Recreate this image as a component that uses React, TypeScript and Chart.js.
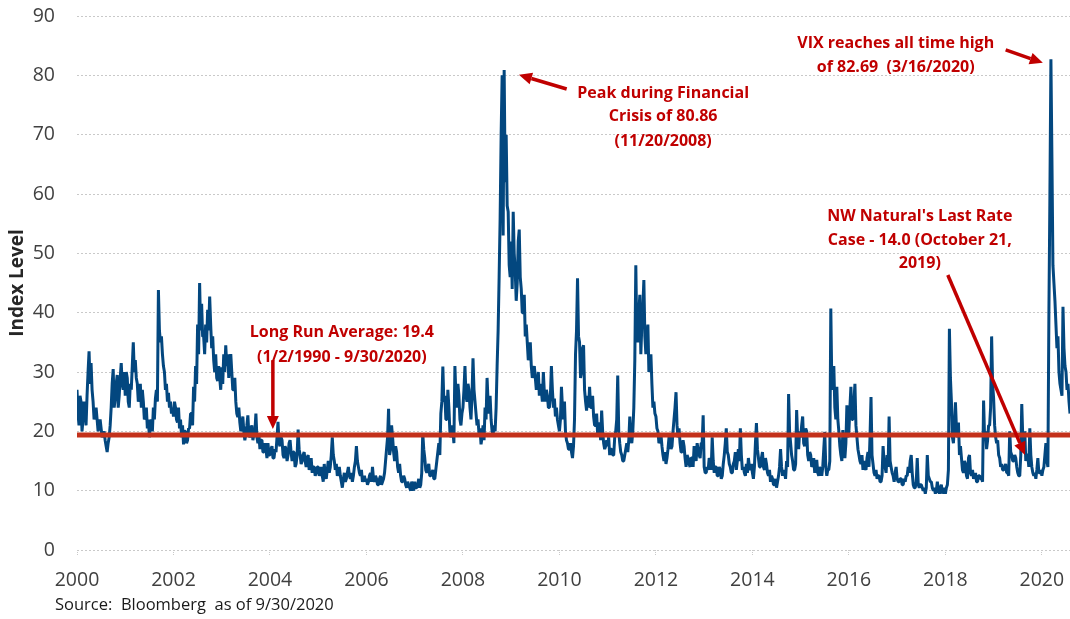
import React, { useEffect, useRef } from 'react';
import { Chart, registerables } from 'chart.js';

Chart.register(...registerables);

// ---------- data ----------
const X_MIN = 2000;
const X_MAX = 2020.583;
const LONG_RUN_AVERAGE = 19.4;
const xTickYears = [2000, 2002, 2004, 2006, 2008, 2010, 2012, 2014, 2016, 2018, 2020];
const Y_MIN = 0;
const Y_MAX = 90;
const Y_STEP = 10;
const SAMPLES_PER_YEAR = 48; // roughly weekly readings, 4 per month

const vix2000 = [27,23, 21,26, 25,20, 22,25, 24,21, 26,30, 33.5,28, 31.5,27, 25,22, 23,24, 22,20, 21,22, 20.5,19, 19.5,20, 18.5,17.5, 16.5,18, 19,21, 24,28, 30.5,24, 25.5,28, 29.5,24, 26,29, 31.5,28, 27,30];
const vix2001 = [26,30, 29,25, 24,28, 27,31, 35,30, 32,29, 28,25, 26,28, 24,27, 25,22, 22.5,24, 20.5,22, 19,21, 22,20, 24,22, 25.5,27, 25,43.8, 37,35, 36,33, 31,30, 27,28, 25,26.5, 24,25, 23,24];
const vix2002 = [22.5,25, 24,22, 21.5,24, 20.5,22, 19,21, 17.8,20, 20,18, 18.5,20.5, 20.5,23, 23,21, 27.5,25, 31,28, 38,33, 45,37, 41.5,36, 36,33, 38,35, 40.5,37, 42.7,38, 34,36, 32,30, 33,29, 28.5,31, 29,27];
const vix2003 = [30.8,28, 33,30, 34.5,31, 33,29, 31,33, 30,27, 27,29, 25,23, 22.4,24, 21.5,20, 21.3,22.5, 20,18.5, 19.6,21, 22.7,19.5, 19,20.5, 21,18.5, 19.5,20, 23,19, 18,19.5, 17,18.5, 18.5,16.5, 16.5,18, 17,15.5, 18,16];
const vix2004 = [16,17, 17.5,15.5, 15.5,17, 16.5,19, 21.6,18, 17.5,19, 18.5,16, 15.5,17.5, 17,15, 16,18, 18.5,16.5, 15,16.5, 16.5,14, 14.5,16, 20.3,17, 16,14.5, 15,16, 16.5,15, 14,15.5, 16,13.5, 14.5,15.5, 13,14, 14,12.5, 13,14];
const vix2005 = [14,12.5, 13,14, 12.5,11.5, 14.5,12.5, 12,13.5, 15,13, 14,16, 19,16, 15,13.5, 14.5,12.5, 13,14, 12.5,11.5, 10.5,12, 13,11.5, 12,13, 14,12.5, 12,13, 11.5,12.5, 14,15, 17.5,15, 14,13, 12.5,13.5, 11.5,12, 12.5,11.5];
const vix2006 = [12,11, 11.5,12.5, 13,11.5, 14,12, 11.5,12.5, 12,11, 11,12, 12.5,11, 11.5,12, 13,15, 17,19, 23.8,16, 17,21, 19,16.5, 15,17.5, 16.5,14, 13,14.5, 12.5,11.5, 11.5,12.5, 12,11, 10.5,11.5, 11,10.5, 10,11.5, 11,10];
const vix2007 = [11.5,10.5, 10.5,11, 12,10.5, 11,13, 19.7,17, 15.5,13.5, 13,14, 14.5,12.5, 12.5,13, 13.5,12, 12,13.5, 15,16.5, 18,16, 23,25, 30.9,25, 26,22, 22,27, 24,20, 19,21, 20,18, 31,26, 24,28, 26,22, 21,23];
const vix2008 = [24,27, 31,26, 25,28, 27,24, 22,26, 32.3,27, 25,23, 21,22, 19.5,20.5, 17.8,19, 21,18.5, 24,22, 29,25, 23,26, 22,20, 19.5,21, 20,24, 31,37, 46,56, 70,80, 53,80.9, 62,70, 58,57, 48,46];
const vix2009 = [52,44, 57,50, 47,42, 45,52, 54,46, 44,40, 40,43, 36,38, 35,32, 33,35, 31,29, 30,31, 29,27, 28,30, 26,28, 27,25, 30,26.5, 25,27, 26,24, 24,26, 31,27, 24,25.5, 22.5,24, 22,21];
const vix2010 = [20,22, 27.5,24, 22,25, 20,18.5, 18,17, 17,18, 16.5,15.5, 17.5,22, 33,37, 45.8,36, 35,29, 30,34, 34.5,27, 25,23.5, 26,24, 27.5,24, 24,26, 22.5,21, 21,23, 19.5,21.5, 20.5,18.5, 23.5,20, 18,17, 17.5,18.5];
const vix2011 = [17.5,19, 16,17, 17,16, 16,19, 20,22, 29.4,20, 18,16.5, 16,15, 15,16, 17,18, 16.5,18.5, 22.5,19, 18,20, 24,32, 48,36, 35,40, 43,33, 38,41, 45.5,36, 33,36, 38,30, 31,33, 28,24, 25,23];
const vix2012 = [22.5,20.5, 20,18, 18.5,19.5, 17.5,16, 15,16.5, 14.5,15.5, 17,19, 19.5,17, 17.5,20, 22,24, 26.6,21, 19,20.5, 18,16.5, 16.5,18.5, 17.5,15.5, 14,16, 15.5,14.5, 14,15.5, 15.5,14, 17.5,16, 15,18, 17,16, 15.5,18, 18,22.7];
const vix2013 = [14,13, 13,14, 13.5,15.5, 15,13.5, 19,15, 13,14, 14,12.5, 12.5,14, 13.5,12, 12.5,14.5, 16,18, 20.5,16.5, 16,14.5, 14,13, 13,14.5, 15,16.5, 13.5,15, 17,15, 20.5,16, 13.5,14, 13,12.5, 14.5,13, 15.5,14, 13.5,14.5];
const vix2014 = [13,12, 14,18, 21.4,17, 15.5,14, 14,15.5, 16.5,14, 13.5,15.5, 14.5,13, 12.5,13.5, 11.5,12.5, 12,11, 11,12, 10.5,11.5, 12.5,14, 17,14, 12.5,13.5, 13,12, 15,14, 26.3,20, 18,16, 15,13.5, 13.5,14.5, 23.6,19, 17,20];
const vix2015 = [19,21, 22.5,18, 17.5,20.5, 20,16, 15,16.5, 16,14, 14.5,15.5, 13,14, 15.2,13, 12.5,14, 13.5,12.5, 14,17, 19.9,14, 12.5,13.5, 13.5,15, 40.7,28, 27,31, 24,22, 27.5,22, 20,17.5, 16,15, 20.2,16.5, 15.5,18, 24.4,19];
const vix2016 = [20,24, 27.5,22, 22,25, 28,21, 19,17, 16,15, 14.5,16, 13.5,15, 14,13.5, 15.5,16.5, 14,19, 25.8,16, 14.5,13, 12.5,13.5, 12,12.5, 12.5,11.5, 11.5,12.5, 17.5,15, 14,13, 16,14, 22.5,15, 14,13, 12.5,11.5, 13,14];
const vix2017 = [12,11.5, 11.5,12, 12,11, 11,12, 11.5,12.5, 12.5,14, 13,15, 16,13, 11,10.5, 10.5,11.5, 15.5,11, 10.5,11, 11,10.5, 10,10.5, 9.5,10.5, 16,12.5, 12,11.5, 11.5,10.5, 10,10.5, 9.5,10, 11.5,10, 9.5,10.5, 11,9.5, 10,10.5];
const vix2018 = [9.5,10.5, 11,13.5, 37.3,29, 25,19, 18,21, 24.9,20.5, 19,21.5, 16,17.5, 15.5,13.5, 13,15, 14.5,12.5, 12,15.5, 16,13, 12.5,13.5, 12,12.5, 13,11.5, 11.5,12.5, 12.5,12, 12,11.5, 25.2,19, 20,17, 18.5,21, 21,24, 36,28];
const vix2019 = [25.5,21, 19,18, 18.5,16, 15.5,14, 14.5,13.5, 13.5,14, 14.5,13, 13,12.5, 20,16.5, 16,15, 15,16, 15.5,14, 13,12.5, 12.5,16, 24.6,19, 18,20, 15,16, 16,14, 20.5,16, 14,13, 12.5,13, 12,13.5, 15.5,13, 13,13.5];
const vix2020 = [12.5,13.5, 14,16, 18,15, 14,40, 60,82.7, 66,48, 45,42, 38,34, 36,30, 28,27, 26,41, 34,31, 30,27, 28,25, 23];

const vixByYear: [number, number[]][] = [
  [2000, vix2000], [2001, vix2001], [2002, vix2002], [2003, vix2003], [2004, vix2004],
  [2005, vix2005], [2006, vix2006], [2007, vix2007], [2008, vix2008], [2009, vix2009],
  [2010, vix2010], [2011, vix2011], [2012, vix2012], [2013, vix2013], [2014, vix2014],
  [2015, vix2015], [2016, vix2016], [2017, vix2017], [2018, vix2018], [2019, vix2019],
  [2020, vix2020],
];

// annotation texts, anchored in data units (year, index level)
const annotations = [
  { x: 2005.49, y: [36.6, 32.5], lines: ['Long Run Average: 19.4', '(1/2/1990 - 9/30/2020)'] },
  { x: 2012.15, y: [77.0, 73.0, 68.8], lines: ['Peak during Financial', 'Crisis of 80.86', '(11/20/2008)'] },
  { x: 2016.97, y: [85.45, 81.25], lines: ['VIX reaches all time high', 'of 82.69  (3/16/2020)'] },
  { x: 2017.47, y: [56.3, 52.25, 48.35], lines: ["NW Natural's Last Rate", 'Case - 14.0 (October 21,', '2019)'] },
];
const arrows = [
  { from: [2004.06, 32.0], to: [2004.06, 20.4] },
  { from: [2010.15, 77.7], to: [2009.16, 80.1] },
  { from: [2019.25, 84.3], to: [2020.02, 82.1] },
  { from: [2018.05, 46.35], to: [2019.65, 16.0] },
];
const SOURCE_TEXT = 'Source:  Bloomberg  as of 9/30/2020';
const Y_TITLE = 'Index Level';

// ---------- styles ----------
const FONT = '"Open Sans", "Noto Sans", sans-serif';
const BLUE = '#03477F';
const AVG_RED = '#C3311B';
const ANNO_RED = '#C00000';
const GRID = '#C9C9C9';
const TICK_TEXT = '#404040';

const annotationPlugin = {
  id: 'vixAnnotations',
  afterDraw(chart: any) {
    const ctx = chart.ctx as CanvasRenderingContext2D;
    const xs = chart.scales.x;
    const ys = chart.scales.y;
    ctx.save();
    ctx.fillStyle = ANNO_RED;
    ctx.font = `bold 16px ${FONT}`;
    ctx.textAlign = 'center';
    ctx.textBaseline = 'middle';
    annotations.forEach((a) => {
      a.lines.forEach((t, i) => {
        ctx.fillText(t, xs.getPixelForValue(a.x), ys.getPixelForValue(a.y[i]));
      });
    });
    arrows.forEach((a) => {
      const x1 = xs.getPixelForValue(a.from[0]);
      const y1 = ys.getPixelForValue(a.from[1]);
      const x2 = xs.getPixelForValue(a.to[0]);
      const y2 = ys.getPixelForValue(a.to[1]);
      const ang = Math.atan2(y2 - y1, x2 - x1);
      const headLen = 13;
      const headHalf = 6;
      const bx = x2 - headLen * Math.cos(ang);
      const by = y2 - headLen * Math.sin(ang);
      ctx.strokeStyle = ANNO_RED;
      ctx.lineWidth = 3.5;
      ctx.beginPath();
      ctx.moveTo(x1, y1);
      ctx.lineTo(bx, by);
      ctx.stroke();
      ctx.beginPath();
      ctx.moveTo(x2, y2);
      ctx.lineTo(bx + headHalf * Math.sin(ang), by - headHalf * Math.cos(ang));
      ctx.lineTo(bx - headHalf * Math.sin(ang), by + headHalf * Math.cos(ang));
      ctx.closePath();
      ctx.fill();
    });
    // y axis title
    ctx.fillStyle = '#262626';
    ctx.font = `bold 19px ${FONT}`;
    ctx.translate(17.5, (chart.chartArea.top + chart.chartArea.bottom) / 2);
    ctx.rotate(-Math.PI / 2);
    ctx.fillText(Y_TITLE, 0, 0);
    ctx.restore();
    // source
    ctx.save();
    ctx.fillStyle = '#1a1a1a';
    ctx.font = `16.5px ${FONT}`;
    ctx.textAlign = 'left';
    ctx.textBaseline = 'middle';
    ctx.fillText(SOURCE_TEXT, 55, chart.height - 14);
    ctx.restore();
  },
};

export default function App() {
  const ref = useRef<HTMLCanvasElement | null>(null);
  useEffect(() => {
    document.body.style.margin = '0';
    const canvas = ref.current;
    if (!canvas) return;
    const points = vixByYear.flatMap(([yr, vals]) =>
      vals.map((v, i) => ({ x: yr + i / SAMPLES_PER_YEAR, y: v }))
    );
    const chart = new Chart(canvas, {
      type: 'line',
      data: {
        datasets: [
          {
            label: 'Long Run Average',
            data: [
              { x: X_MIN, y: LONG_RUN_AVERAGE },
              { x: X_MAX, y: LONG_RUN_AVERAGE },
            ],
            borderColor: AVG_RED,
            borderWidth: 5,
            pointRadius: 0,
          },
          {
            label: 'VIX',
            data: points,
            borderColor: BLUE,
            borderWidth: 3,
            pointRadius: 0,
            tension: 0,
            borderJoinStyle: 'bevel',
          },
        ],
      },
      options: {
        responsive: false,
        animation: false,
        devicePixelRatio: 1,
        layout: { padding: { top: 16, right: 0, bottom: 19, left: 0 } },
        plugins: { legend: { display: false }, tooltip: { enabled: false } },
        scales: {
          x: {
            type: 'linear',
            min: X_MIN,
            max: X_MAX,
            afterBuildTicks: (scale: any) => {
              scale.ticks = xTickYears.map((v) => ({ value: v }));
            },
            afterFit: (scale: any) => {
              scale.height = 50;
              scale.paddingLeft = 0;
              scale.paddingRight = 0;
            },
            ticks: {
              autoSkip: false,
              maxRotation: 0,
              padding: 13,
              color: TICK_TEXT,
              font: { family: FONT, size: 19.5 },
              callback: (v: any) => String(v),
            },
            grid: {
              drawOnChartArea: false,
              drawTicks: true,
              tickLength: 6,
              color: GRID,
              tickBorderDash: [1, 1],
            },
            border: { display: false },
          },
          y: {
            min: Y_MIN,
            max: Y_MAX,
            afterFit: (scale: any) => {
              scale.width = 77;
              scale.paddingTop = 0;
              scale.paddingBottom = 0;
            },
            ticks: {
              stepSize: Y_STEP,
              padding: 22,
              color: TICK_TEXT,
              font: { family: FONT, size: 19.5 },
            },
            grid: {
              color: GRID,
              lineWidth: 1,
              drawTicks: false,
              borderDash: [2, 2],
            } as any,
            border: { display: false, dash: [2, 2] },
          },
        },
      },
      plugins: [annotationPlugin],
    } as any);
    return () => chart.destroy();
  }, []);
  return <canvas ref={ref} width={1070} height={619} style={{ display: 'block' }} />;
}
